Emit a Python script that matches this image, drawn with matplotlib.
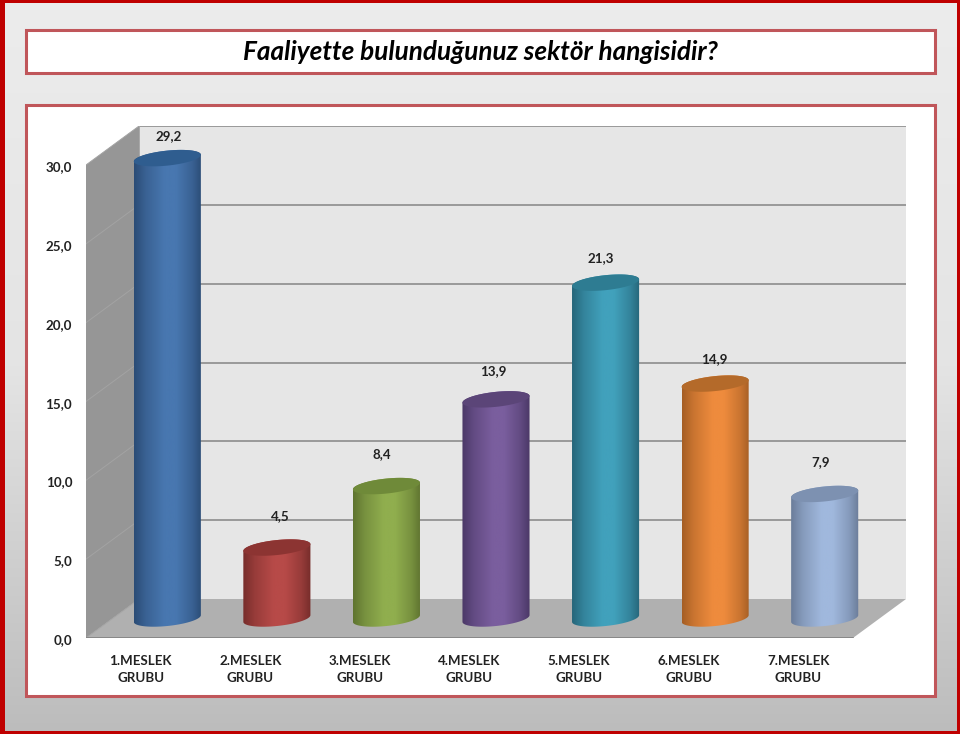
import numpy as np
import matplotlib
matplotlib.use('Agg')
import matplotlib.pyplot as plt
from matplotlib.colors import LinearSegmentedColormap, to_rgb
from matplotlib.patches import Polygon, Rectangle
from matplotlib.transforms import ScaledTranslation

plt.rcParams['font.family'] = ['Lato', 'DejaVu Sans']

title = 'Faaliyette bulunduğunuz sektör hangisidir?'
categories = ['1.MESLEK\nGRUBU', '2.MESLEK\nGRUBU', '3.MESLEK\nGRUBU', '4.MESLEK\nGRUBU',
              '5.MESLEK\nGRUBU', '6.MESLEK\nGRUBU', '7.MESLEK\nGRUBU']
values = [29.2, 4.5, 8.4, 13.9, 21.3, 14.9, 7.9]
value_labels = ['29,2', '4,5', '8,4', '13,9', '21,3', '14,9', '7,9']
y_ticks = [0, 5, 10, 15, 20, 25, 30]
y_tick_labels = ['0,0', '5,0', '10,0', '15,0', '20,0', '25,0', '30,0']

# edge, centre, cap colour of every cylinder
edge_colors = ['#2b4c76', '#772d2b', '#5f7430', '#4b3867', '#26667a', '#a55e24', '#6b7d9a']
mid_colors = ['#4877b0', '#b74a48', '#90ae4e', '#7a5e9e', '#41a1bc', '#ee8b3d', '#a0b8dd']
cap_colors = ['#2f5d8f', '#8c3432', '#6f8a39', '#5b4578', '#2e7c92', '#b46a2a', '#7d91b1']

# label offsets from the cylinder top, in pixels
label_dx = [1, 3, -5, -3, -5, -1, -4]
label_dy = [22, 31, 32, 28, 25, 25, 32]

# pixels per category / per value unit, oblique depth of the box
PX_X = 109.43
PX_Y = 15.77
DEPTH_PX_X = 53
DEPTH_PX_Y = 39
dx = DEPTH_PX_X / PX_X
dy = DEPTH_PX_Y / PX_Y

W, H = 960, 734
fig = plt.figure(figsize=(9.6, 7.34), dpi=100)

# page background and frames, in pixel coordinates
bg = fig.add_axes([0, 0, 1, 1])
bg.set_axis_off()
grad = LinearSegmentedColormap.from_list('page', ['#ececec', '#e4e4e4', '#bcbcbc'])
bg.imshow(np.linspace(0, 1, 256).reshape(-1, 1), extent=(0, W, H, 0), cmap=grad, aspect='auto')
bg.set_xlim(0, W)
bg.set_ylim(H, 0)
red = '#bf0000'
bg.add_patch(Rectangle((0, 0), 5, H, color=red, lw=0))
bg.add_patch(Rectangle((W - 3, 0), 3, H, color=red, lw=0))
bg.add_patch(Rectangle((0, 0), W, 3, color=red, lw=0))
bg.add_patch(Rectangle((0, H - 3), W, 3, color=red, lw=0))
frame = '#c0565a'
bg.add_patch(Rectangle((26, 30), 909, 43, fc='white', ec=frame, lw=2.2))
bg.add_patch(Rectangle((26, 105), 909, 591, fc='white', ec=frame, lw=2.2))
bg.text(480, 52, title, ha='center', va='center', fontsize=18.8, style='italic',
        fontweight='bold', color='black')

# chart axes: front plane of the oblique box
ax = fig.add_axes([86 / W, 1 - 638 / H, 820 / W, 512 / H])
ax.patch.set_alpha(0)
xmax = len(categories) + dx
ymax = 30 + dy

ax.add_patch(Polygon([(0, 0), (dx, dy), (dx, ymax), (0, 30)], fc='#969696', ec='none', zorder=1))
ax.add_patch(Rectangle((dx, dy), xmax - dx, 30, fc='#e6e6e6', ec='none', zorder=1))
ax.add_patch(Polygon([(0, 0), (len(categories), 0), (xmax, dy), (dx, dy)], fc='#b0b0b0', ec='none', zorder=1))

for t in y_ticks:
    if t > 0:
        ax.plot([dx, xmax], [t + dy, t + dy], color='#858585', lw=1.1, zorder=2)
    ax.plot([0, dx], [t, t + dy], color='#a3a3a3', lw=0.7, zorder=2)
ax.plot([dx, dx], [dy, ymax], color='#a8a8a8', lw=0.7, zorder=2)
ax.plot([0, len(categories)], [0, 0], color='#808080', lw=1.2, zorder=2)

a = 33.5
b = 7.5
tilt = 0.1


def ellipse(cx, cy, t0, t1):
    t = np.linspace(t0, t1, 60)
    px = a * np.cos(t)
    py = b * np.sin(t) + tilt * px
    return np.column_stack([cx + px / PX_X, cy + py / PX_Y])


base = dy / 2
for i, v in enumerate(values):
    cx = i + 0.5 + dx / 2
    top = base + v
    body = np.vstack([ellipse(cx, base, np.pi, 2 * np.pi), ellipse(cx, top, 0, np.pi)])
    patch = Polygon(body, fc='none', ec='none', zorder=3)
    ax.add_patch(patch)
    between = tuple(0.5 * (np.array(to_rgb(edge_colors[i])) + np.array(to_rgb(mid_colors[i]))))
    cmap = LinearSegmentedColormap.from_list(
        'cyl%d' % i, [(0, edge_colors[i]), (0.17, between), (0.45, mid_colors[i]),
                      (0.62, mid_colors[i]), (0.86, between), (1, edge_colors[i])])
    half = a / PX_X
    im = ax.imshow(np.linspace(0, 1, 128).reshape(1, -1), cmap=cmap, aspect='auto', zorder=3,
                   extent=(cx - half, cx + half, base - 1, top + 1))
    im.set_clip_path(patch)
    ax.add_patch(Polygon(ellipse(cx, top, 0, 2 * np.pi), fc=cap_colors[i], ec='none', zorder=4))
    ax.text(cx + label_dx[i] / PX_X, top + label_dy[i] / PX_Y, value_labels[i],
            ha='center', va='center', fontsize=9.6, fontweight='bold', color='#222222', zorder=5)

ax.set_xlim(0, xmax)
ax.set_ylim(0, ymax)
ax.set_aspect('auto')
for s in ax.spines.values():
    s.set_visible(False)
ax.set_xticks(np.arange(len(categories)) + 0.5)
ax.set_xticklabels(categories, fontsize=9.6, fontweight='bold', color='#222222', linespacing=1.5)
ax.set_yticks(y_ticks)
ax.set_yticklabels(y_tick_labels, fontsize=9.6, fontweight='bold', color='#222222')
ax.tick_params(axis='both', length=0)
ax.tick_params(axis='x', pad=12)
ax.tick_params(axis='y', pad=10)
# y labels sit a little under their tick in the original
shift = ScaledTranslation(0, -1.2 / 100, fig.dpi_scale_trans)
for lab in ax.get_yticklabels():
    lab.set_transform(lab.get_transform() + shift)

fig.savefig('out.png', dpi=100)
